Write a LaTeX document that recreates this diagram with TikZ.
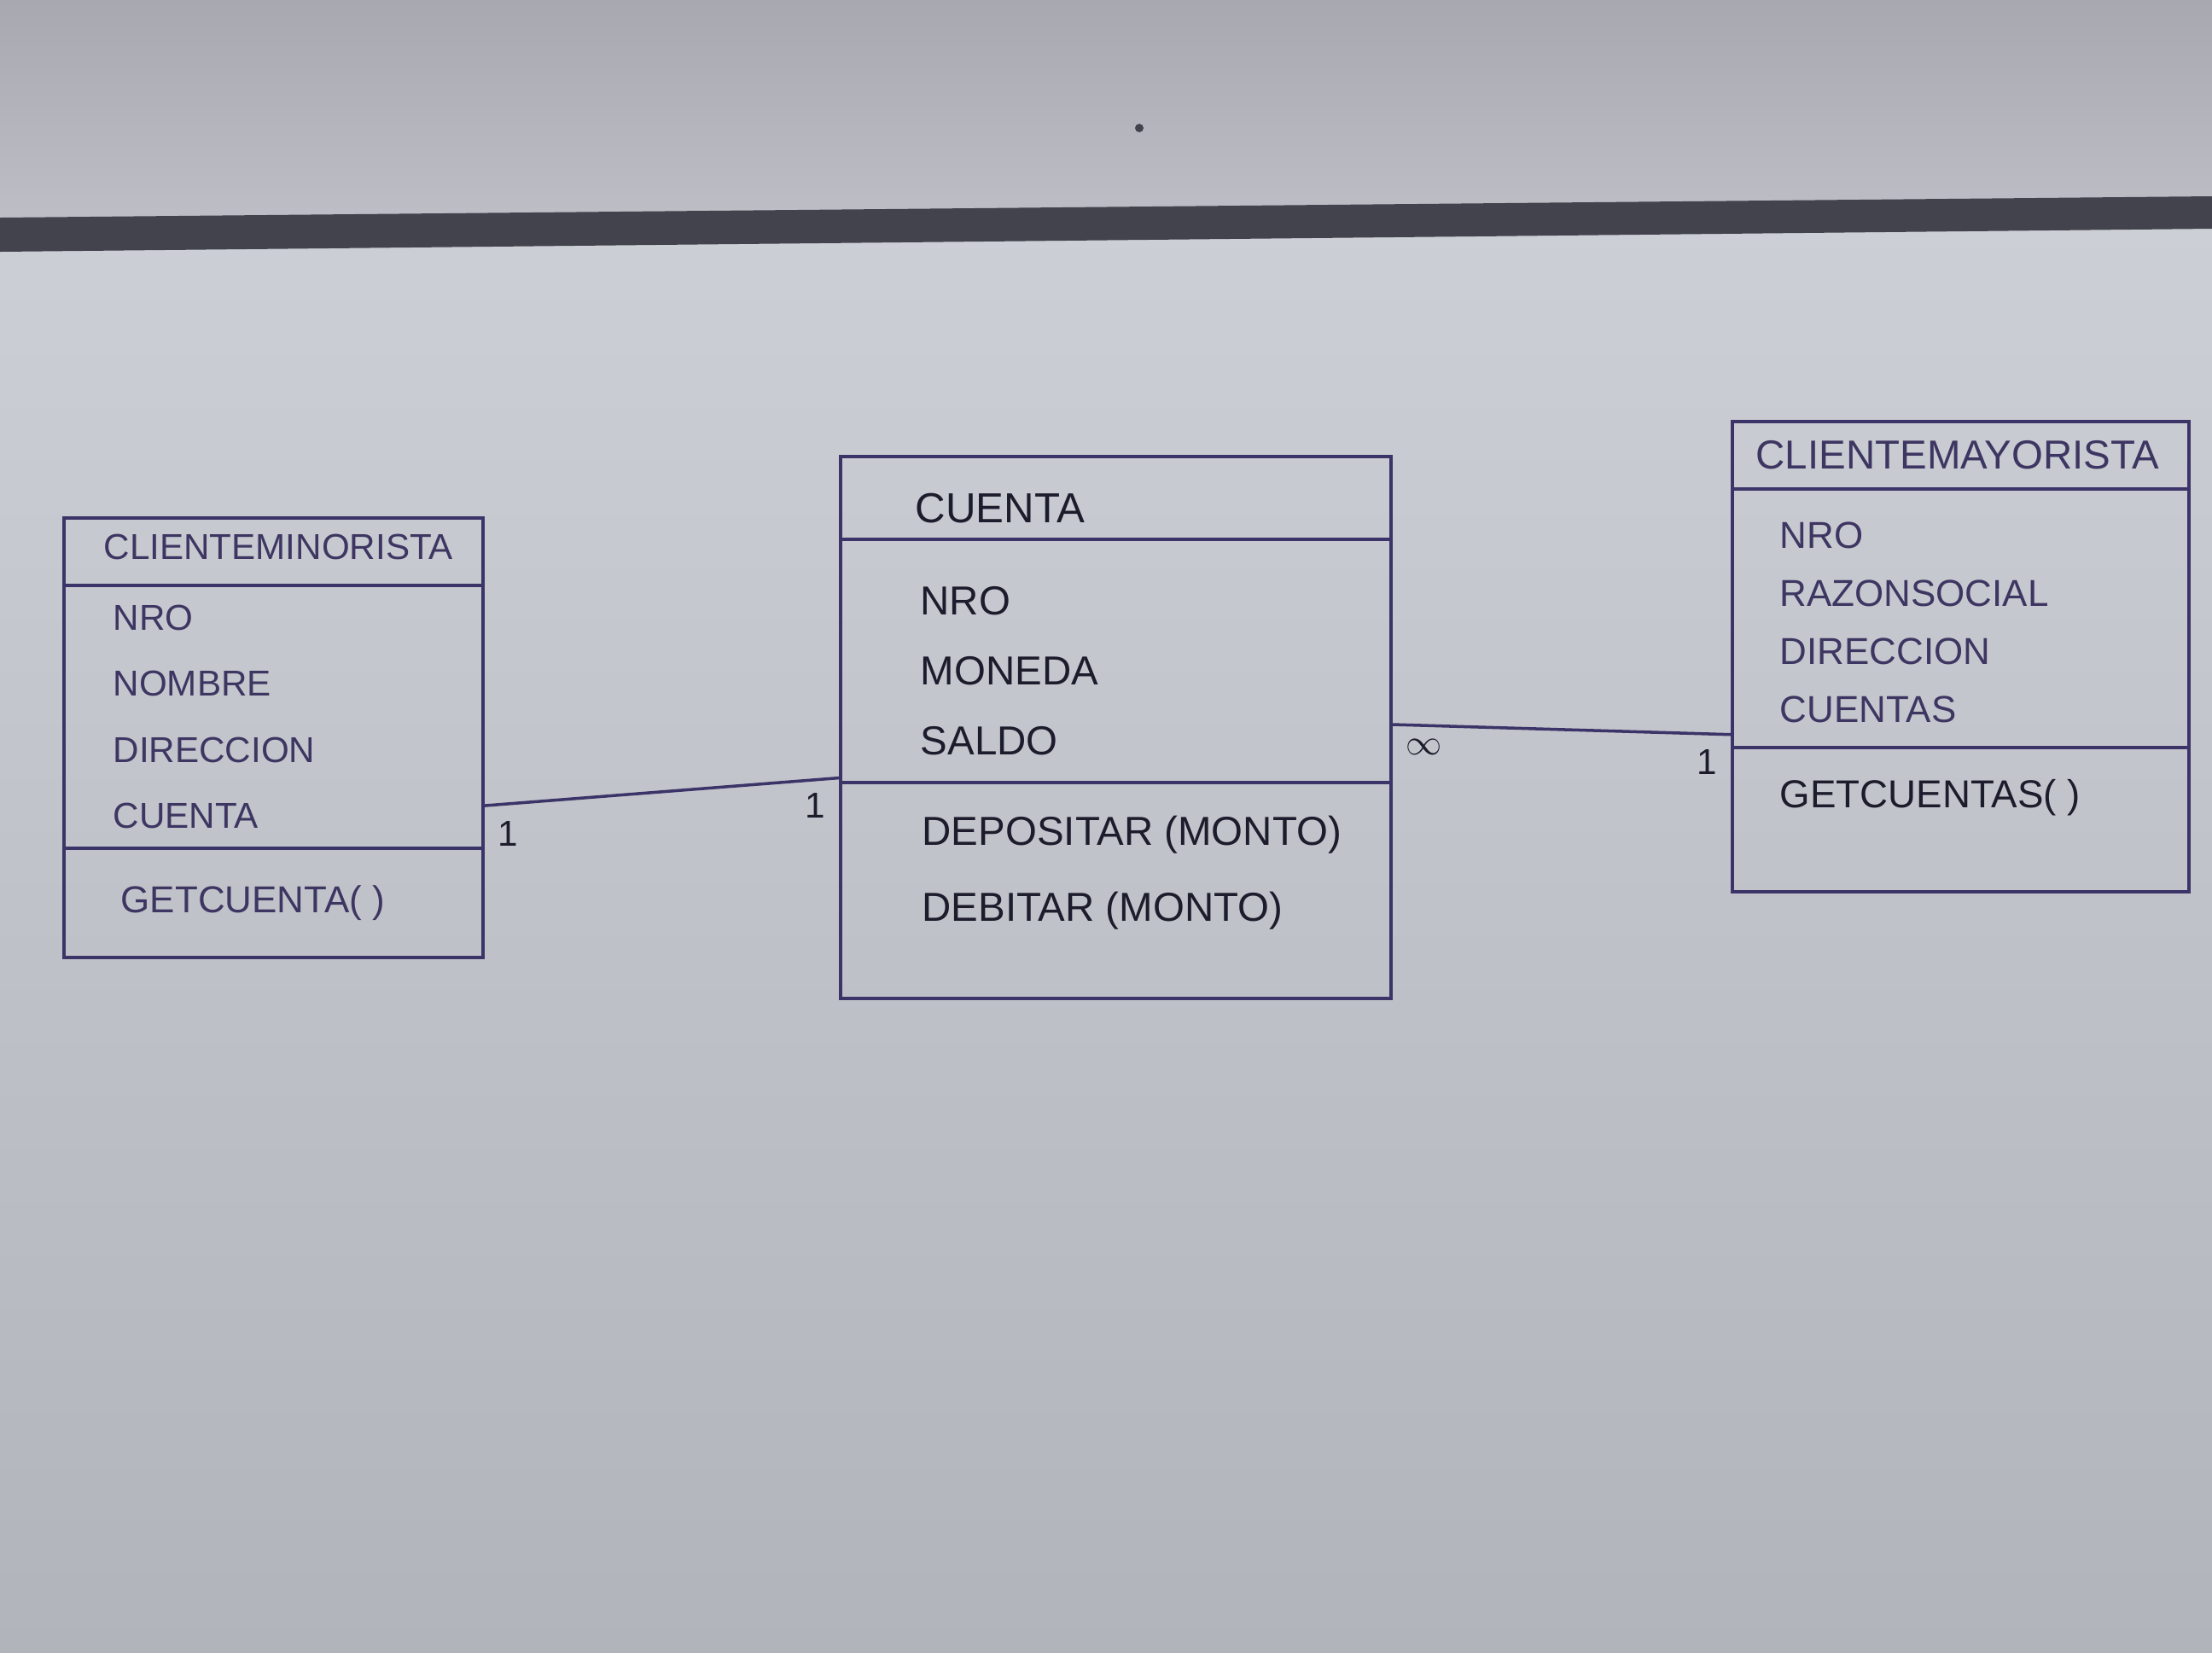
\documentclass[tikz,border=0pt]{standalone}
\usepackage{fontspec}
\setmainfont{Liberation Sans}
\usetikzlibrary{positioning}

\definecolor{frametop}{RGB}{168,169,176}
\definecolor{framebot}{RGB}{190,191,198}
\definecolor{boardtop}{RGB}{204,207,213}
\definecolor{boardbot}{RGB}{178,180,187}
\definecolor{strip}{RGB}{66,67,76}
\definecolor{ink}{RGB}{58,52,104}
\definecolor{inkpale}{RGB}{62,54,98}
\definecolor{inkdark}{RGB}{28,28,44}

\tikzset{
    compartment/.style = {draw = ink, line width = 1pt, inner sep = 0pt, outer sep = 0pt},
    classname/.style = {inner sep = 0pt, font = \fontsize{#1}{#1}\selectfont},
    members/.style 2 args = {inner sep = 0pt, align = left, font = \fontsize{#1}{#2}\selectfont},
    mult/.style = {inner sep = 0.16cm, text = inkdark, font = \fontsize{12}{14}\selectfont},
    assoc/.style = {draw = ink, line width = 1pt}
}

\begin{document}
\begin{tikzpicture}
        \useasboundingbox (0,0) rectangle (25.92,-19.36);
        \shade [top color = frametop, bottom color = framebot] (0,0) rectangle (25.92,-2.6);
        \shade [top color = boardtop, bottom color = boardbot] (0,-2.6) rectangle (25.92,-19.36);
        \fill [strip] (0,-2.55) -- (25.92,-2.3) -- (25.92,-2.68) -- (0,-2.95) -- cycle;
        \fill [strip] (13.35,-1.5) circle (0.05);

        \node (minTitle) [compartment, anchor = north west, minimum width = 4.91cm, minimum height = 0.79cm] at (0.75,-6.07) {};
        \node (minAttr) [compartment, below = 0pt of minTitle, minimum width = 4.91cm, minimum height = 3.08cm] {};
        \node (minMeth) [compartment, below = 0pt of minAttr, minimum width = 4.91cm, minimum height = 1.28cm] {};
        \node (minName) [classname = 12, text = inkpale, right = 0.46cm of minTitle.west, yshift = 0.06cm] {CLIENTEMINORISTA};
        \node (minAttrs) [members = {12}{22}, text = inkpale, right = 0.57cm of minAttr.west] {NRO\\NOMBRE\\DIRECCION\\CUENTA};
        \node (minMeths) [members = {12.5}{14}, text = inkpale, right = 0.66cm of minMeth.west] {GETCUENTA( )};

        \node (cuTitle) [compartment, anchor = north west, minimum width = 6.45cm, minimum height = 0.97cm] at (9.85,-5.35) {};
        \node (cuAttr) [compartment, below = 0pt of cuTitle, minimum width = 6.45cm, minimum height = 2.85cm] {};
        \node (cuMeth) [compartment, below = 0pt of cuAttr, minimum width = 6.45cm, minimum height = 2.53cm] {};
        \node (cuName) [classname = 14, text = inkdark, right = 0.87cm of cuTitle.west, yshift = -0.12cm] {CUENTA};
        \node (cuAttrs) [members = {13.5}{23.3}, text = inkdark, right = 0.93cm of cuAttr.west, yshift = -0.12cm] {NRO\\MONEDA\\SALDO};
        \node (cuMeths) [members = {13.5}{25.3}, text = inkdark, right = 0.95cm of cuMeth.west, yshift = 0.21cm] {DEPOSITAR (MONTO)\\DEBITAR (MONTO)};

        \node (mayTitle) [compartment, anchor = north west, minimum width = 5.35cm, minimum height = 0.79cm] at (20.30,-4.94) {};
        \node (mayAttr) [compartment, below = 0pt of mayTitle, minimum width = 5.35cm, minimum height = 3.03cm] {};
        \node (mayMeth) [compartment, below = 0pt of mayAttr, minimum width = 5.35cm, minimum height = 1.69cm] {};
        \node (mayName) [classname = 13.5, text = inkpale, right = 0.27cm of mayTitle.west] {CLIENTEMAYORISTA};
        \node (mayAttrs) [members = {12.5}{19.4}, text = inkpale, right = 0.55cm of mayAttr.west, yshift = -0.05cm] {NRO\\RAZONSOCIAL\\DIRECCION\\CUENTAS};
        \node (mayMeths) [members = {13}{15}, text = inkdark, right = 0.55cm of mayMeth.west, yshift = 0.26cm] {GETCUENTAS( )};

        \path [assoc] (minAttr.-23.7) edge node [mult, at start, below right] {1} node [mult, at end, below left] {1} (cuAttr.203.2);
        \path [assoc] (cuAttr.-13.7) edge node [mult, at start, below right] {$\infty$} node [mult, at end, below left] {1} (mayAttr.207.2);

    \end{tikzpicture}
\end{document}
